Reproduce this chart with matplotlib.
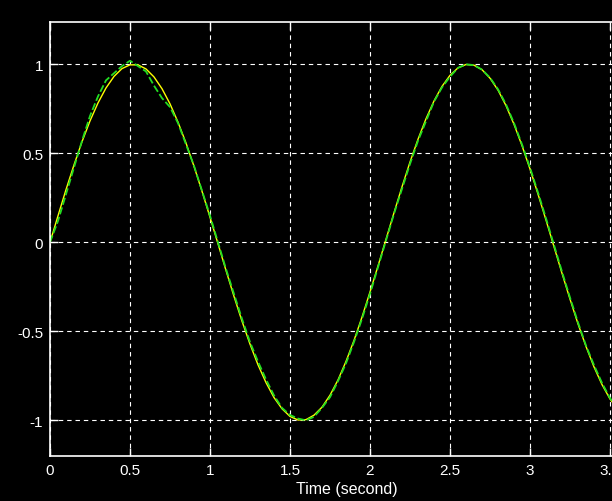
import matplotlib
matplotlib.use("Agg")
import matplotlib.pyplot as plt

# time axis (seconds) and the two scope traces
t = [0.00, 0.05, 0.10, 0.15, 0.20, 0.25, 0.30, 0.35, 0.40, 0.45,
     0.50, 0.55, 0.60, 0.65, 0.70, 0.75, 0.80, 0.85, 0.90, 0.95,
     1.00, 1.05, 1.10, 1.15, 1.20, 1.25, 1.30, 1.35, 1.40, 1.45,
     1.50, 1.55, 1.60, 1.65, 1.70, 1.75, 1.80, 1.85, 1.90, 1.95,
     2.00, 2.05, 2.10, 2.15, 2.20, 2.25, 2.30, 2.35, 2.40, 2.45,
     2.50, 2.55, 2.60, 2.65, 2.70, 2.75, 2.80, 2.85, 2.90, 2.95,
     3.00, 3.05, 3.10, 3.15, 3.20, 3.25, 3.30, 3.35, 3.40, 3.45,
     3.50, 3.55]

reference = [0.000, 0.149, 0.296, 0.435, 0.565, 0.682, 0.783, 0.867, 0.932, 0.976,
             0.997, 0.997, 0.974, 0.929, 0.863, 0.778, 0.675, 0.558, 0.427, 0.287,
             0.141, -0.008, -0.158, -0.304, -0.443, -0.572, -0.688, -0.788, -0.872, -0.935,
             -0.978, -0.998, -0.996, -0.971, -0.926, -0.859, -0.773, -0.669, -0.551, -0.420,
             -0.279, -0.133, 0.017, 0.166, 0.312, 0.451, 0.579, 0.694, 0.794, 0.876,
             0.938, 0.980, 0.999, 0.995, 0.970, 0.922, 0.855, 0.768, 0.663, 0.543,
             0.412, 0.271, 0.125, -0.025, -0.174, -0.319, -0.458, -0.585, -0.700, -0.799,
             -0.880, -0.940]

estimate = [0.00, 0.12, 0.27, 0.42, 0.57, 0.71, 0.82, 0.91, 0.95, 0.99,
            1.02, 0.99, 0.96, 0.88, 0.81, 0.76, 0.67, 0.55, 0.43, 0.29,
            0.15, 0.00, -0.15, -0.29, -0.43, -0.56, -0.67, -0.77, -0.86, -0.93,
            -0.97, -0.99, -1.00, -0.98, -0.93, -0.87, -0.78, -0.68, -0.56, -0.43,
            -0.29, -0.14, 0.01, 0.16, 0.30, 0.44, 0.57, 0.68, 0.79, 0.87,
            0.93, 0.98, 1.00, 0.995, 0.97, 0.925, 0.86, 0.775, 0.67, 0.55,
            0.42, 0.28, 0.135, -0.015, -0.165, -0.31, -0.45, -0.58, -0.69, -0.79,
            -0.875, -0.935]

xticks = [0, 0.5, 1, 1.5, 2, 2.5, 3, 3.5]
xticklabels = ["0", "0.5", "1", "1.5", "2", "2.5", "3", "3.5"]
yticks = [-1, -0.5, 0, 0.5, 1]
yticklabels = ["-1", "-0.5", "0", "0.5", "1"]

plt.rcParams["font.family"] = ["Liberation Sans", "DejaVu Sans"]

fig = plt.figure(figsize=(6.12, 5.02), dpi=100, facecolor="black")
# axes run past the right edge of the image, like the cropped scope window
ax = fig.add_axes([50 / 612, 44.7 / 502, 594 / 612, 434 / 502], facecolor="black")

ax.plot(t, reference, color="#ffff00", linewidth=1.0)
ax.plot(t, estimate, color="#22dd22", linewidth=1.3, linestyle=(0, (4, 1.5)))

ax.set_xlim(0, 594 / 160)
ax.set_ylim(-1.202, 1.236)
ax.set_xticks(xticks)
ax.set_xticklabels(xticklabels)
ax.set_yticks(yticks)
ax.set_yticklabels(yticklabels)

ax.grid(True, color="white", linewidth=0.8, linestyle=(0, (4, 3.5)))
ax.tick_params(direction="in", length=6, width=1, colors="white",
               top=True, right=True, labelsize=11, pad=5)
for sp in ax.spines.values():
    sp.set_color("white")
    sp.set_linewidth(1.2)

ax.set_xlabel("Time (second)", color="white", fontsize=11.5, labelpad=3)

fig.savefig("out.png", dpi=100, facecolor="black")
